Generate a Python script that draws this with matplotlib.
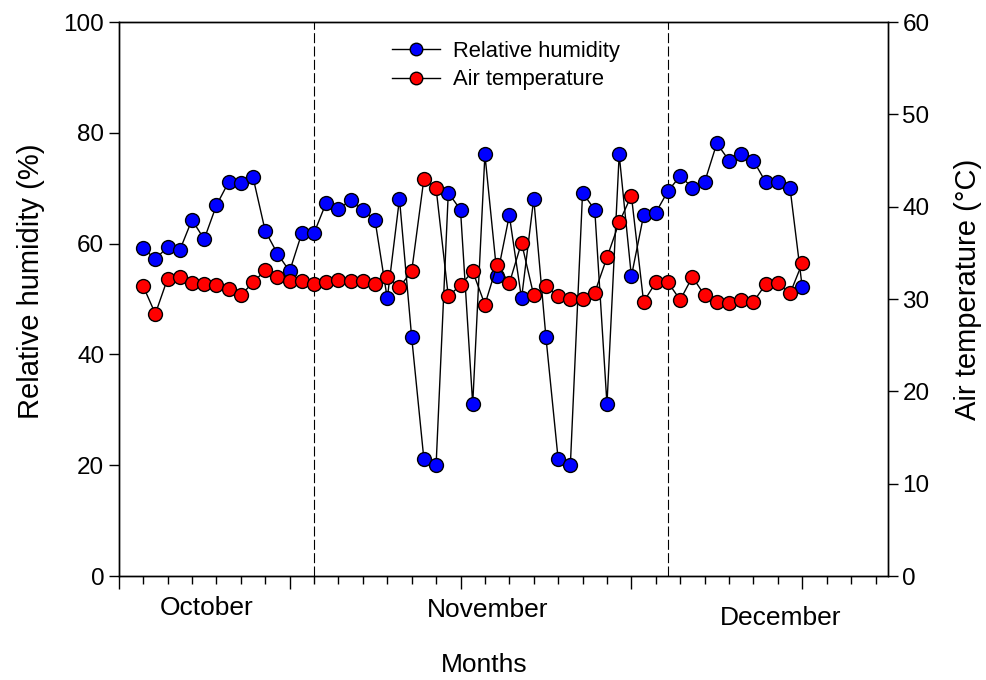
import numpy as np
import matplotlib
matplotlib.use('Agg')
import matplotlib.pyplot as plt
from matplotlib.ticker import MultipleLocator

plt.rcParams['font.family'] = ['Liberation Sans', 'DejaVu Sans']

# daily readings, day index counted from the start of the record
days = np.arange(2, 57)

rh = [59.2, 57.2, 59.4, 58.8, 64.3, 60.8, 66.9, 71.1, 70.9, 72.0, 62.3, 58.2, 55.0, 61.9, 61.9,
      67.4, 66.3, 67.8, 66.0, 64.2, 50.1, 68.1, 43.1, 21.1, 20.0, 69.2, 66.1, 31.0, 76.1, 54.1,
      65.1, 50.1, 68.1, 43.1, 21.1, 20.0, 69.2, 66.1, 31.0, 76.1, 54.1, 65.1, 65.6, 69.5, 72.2,
      70.1, 71.1, 78.1, 75.0, 76.1, 75.0, 71.1, 71.1, 70.0, 52.1]

temp = [31.4, 28.4, 32.2, 32.4, 31.7, 31.6, 31.5, 31.1, 30.4, 31.8, 33.1, 32.4, 31.9, 31.9, 31.6,
        31.8, 32.1, 31.9, 31.9, 31.6, 32.4, 31.3, 33.0, 43.0, 42.0, 30.3, 31.5, 33.0, 29.4, 33.7,
        31.7, 36.1, 30.4, 31.4, 30.3, 30.0, 30.0, 30.7, 34.5, 38.3, 41.2, 29.7, 31.8, 31.8, 29.9,
        32.4, 30.4, 29.7, 29.6, 29.9, 29.7, 31.6, 31.7, 30.6, 33.9]

month_names = ['October', 'November', 'December']
month_pos = [7.2, 30.2, 54.2]
month_y = [-0.058, -0.062, -0.076]
month_breaks = [16, 45]

fig = plt.figure(figsize=(9.87, 6.8), dpi=100)
ax = fig.add_axes([0.1203, 0.1529, 0.7791, 0.8147])
ax2 = ax.twinx()

mk = dict(marker='o', markersize=10, markeredgecolor='black', markeredgewidth=1.0,
          color='black', linewidth=1.0)
l1, = ax.plot(days, rh, markerfacecolor='#0000ff', label='Relative humidity', **mk)
l2, = ax2.plot(days, temp, markerfacecolor='#ff0000', label='Air temperature', **mk)

for b in month_breaks:
    ax.axvline(b, color='black', linewidth=0.8, dashes=(9, 3), zorder=0)

ax.set_xlim(0, 63)
ax.set_ylim(0, 100)
ax2.set_ylim(0, 60)
ax.xaxis.set_major_locator(MultipleLocator(14))
ax.xaxis.set_minor_locator(MultipleLocator(2))
ax.set_xticklabels([])
ax.yaxis.set_major_locator(MultipleLocator(20))
ax2.yaxis.set_major_locator(MultipleLocator(10))

ax.tick_params(axis='x', which='major', direction='out', length=9, width=1)
ax.tick_params(axis='x', which='minor', direction='out', length=6, width=1)
ax.tick_params(axis='y', direction='out', length=7, width=1, labelsize=17.5)
ax2.tick_params(axis='y', direction='out', length=7, width=1, labelsize=17.5)
for a in (ax, ax2):
    for s in a.spines.values():
        s.set_linewidth(1.0)

ax.set_ylabel('Relative humidity (%)', fontsize=21)
ax2.set_ylabel('Air temperature (°C)', fontsize=21)
ax.yaxis.set_label_coords(-0.096, 0.532)
ax2.yaxis.set_label_coords(1.086, 0.518)

trans = ax.get_xaxis_transform()
for name, xp, yp in zip(month_names, month_pos, month_y):
    ax.text(xp, yp, name, transform=trans, ha='center', va='center', fontsize=19)
ax.text(29.95, -0.161, 'Months', transform=trans, ha='center', va='center', fontsize=19)

ax2.legend([l1, l2], ['Relative humidity', 'Air temperature'], loc='upper left',
           bbox_to_anchor=(0.355, 0.966), frameon=False, fontsize=15.8, borderpad=0,
           borderaxespad=0, handlelength=2.2, handletextpad=0.6, labelspacing=0.34,
           markerscale=0.9)

fig.savefig('out.png', dpi=100)
